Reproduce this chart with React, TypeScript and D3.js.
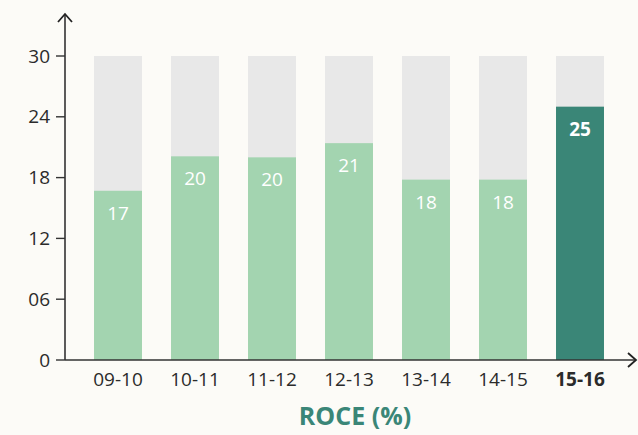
import React from 'react';
import * as d3 from 'd3';

const years = ['09-10', '10-11', '11-12', '12-13', '13-14', '14-15', '15-16'];
const roce = [16.7, 20.1, 20.0, 21.4, 17.8, 17.8, 25.0];
const yTicks = [0, 6, 12, 18, 24, 30];
const yTickLabels = ['0', '06', '12', '18', '24', '30'];
const maxValue = 30;

const W = 638;
const H = 435;
const font = "'Open Sans', 'Noto Sans', sans-serif";

const App = () => {
    const x = d3.scaleBand<string>()
        .domain(years)
        .range([79.5, 618.5])
        .paddingInner(0.377)
        .paddingOuter(0.1885);
    const y = d3.scaleLinear().domain([0, maxValue]).range([360, 56]);

    const axisX = 65;
    const axisY = y(0);
    const last = years.length - 1;

    return (
        <svg width={W} height={H} style={{ position: 'absolute', left: 0, top: 0, background: '#fcfbf7' }}>
            {/* grey track behind each bar */}
            {years.map(d => (
                <rect key={'bg' + d} x={x(d)} y={y(maxValue)} width={x.bandwidth()}
                    height={y(0) - y(maxValue)} fill="#e8e8e8" />
            ))}
            {roce.map((v, i) => (
                <rect key={'bar' + i} x={x(years[i])} y={y(v)} width={x.bandwidth()}
                    height={y(0) - y(v)} fill={i === last ? '#3a8677' : '#a3d4b0'} />
            ))}
            {roce.map((v, i) => (
                <text key={'lbl' + i} x={(x(years[i]) as number) + x.bandwidth() / 2} y={y(v) + 29}
                    textAnchor="middle" fill="#fff" fontFamily={font} fontSize={19}
                    fontWeight={i === last ? 700 : 400}>
                    {Math.round(v)}
                </text>
            ))}

            {/* y axis */}
            <line x1={axisX} x2={axisX} y1={14} y2={axisY} stroke="#333" strokeWidth={1.6} />
            <polyline points={`${axisX - 7},${22} ${axisX},${14} ${axisX + 7},${22}`} fill="none" stroke="#222" strokeWidth={1.8} />
            {yTicks.map((t, i) => (
                <g key={'yt' + t}>
                    <line x1={axisX - 9} x2={axisX} y1={y(t)} y2={y(t)} stroke="#333" strokeWidth={1.4} />
                    <text x={axisX - 15} y={y(t)} dy="0.35em" textAnchor="end" fill="#2b2b2b"
                        fontFamily={font} fontSize={19}>{yTickLabels[i]}</text>
                </g>
            ))}

            {/* x axis */}
            <line x1={axisX} x2={635} y1={axisY} y2={axisY} stroke="#333" strokeWidth={1.6} />
            <polyline points={`${628},${axisY - 7} ${636},${axisY} ${628},${axisY + 7}`} fill="none" stroke="#222" strokeWidth={1.8} />
            {years.map((d, i) => (
                <text key={'xt' + d} x={(x(d) as number) + x.bandwidth() / 2} y={386}
                    textAnchor="middle" fill="#2b2b2b" fontFamily={font} fontSize={19}
                    fontWeight={i === last ? 700 : 400}>{d}</text>
            ))}

            <text x={355} y={425} textAnchor="middle" fill="#3a8677" fontFamily={font}
                fontSize={25} fontWeight={700}>ROCE (%)</text>
        </svg>
    );
};

export default App;
